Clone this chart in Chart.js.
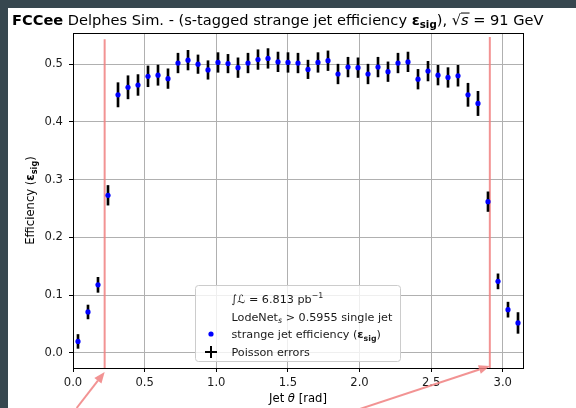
<!DOCTYPE html>
<html>
<head>
<meta charset="utf-8">
<script src="https://cdn.jsdelivr.net/npm/chart.js@4.4.0/dist/chart.umd.min.js"></script>
<style>
    html, body { margin: 0; padding: 0; background: #fff; }
</style>
</head>
<body>
<canvas id="effChart" width="576" height="408"></canvas>
<script>
// Jet theta bin centres (45 bins between 0 and pi)
const thetaBins = [0.0349, 0.1047, 0.1745, 0.2443, 0.3142, 0.3840, 0.4538, 0.5236, 0.5934, 0.6632,
    0.7330, 0.8029, 0.8727, 0.9425, 1.0123, 1.0821, 1.1519, 1.2217, 1.2915, 1.3614,
    1.4312, 1.5010, 1.5708, 1.6406, 1.7104, 1.7802, 1.8500, 1.9199, 1.9897, 2.0595,
    2.1293, 2.1991, 2.2689, 2.3387, 2.4086, 2.4784, 2.5482, 2.6180, 2.6878, 2.7576,
    2.8274, 2.8972, 2.9671, 3.0369, 3.1067];

// strange jet efficiency per bin
const efficiency = [0.020, 0.071, 0.118, 0.273, 0.447, 0.460, 0.464, 0.479, 0.481, 0.475,
    0.502, 0.507, 0.500, 0.490, 0.503, 0.501, 0.494, 0.502, 0.508, 0.510,
    0.504, 0.503, 0.502, 0.491, 0.503, 0.506, 0.483, 0.495, 0.494, 0.483,
    0.495, 0.487, 0.502, 0.504, 0.474, 0.488, 0.481, 0.477, 0.480, 0.447,
    0.432, 0.262, 0.124, 0.075, 0.052];

// Poisson errors (half length of the bars)
const poissonErr = [0.012, 0.012, 0.013, 0.017, 0.021, 0.020, 0.018, 0.018, 0.0175, 0.017,
    0.017, 0.017, 0.016, 0.016, 0.017, 0.016, 0.017, 0.017, 0.017, 0.017,
    0.017, 0.017, 0.017, 0.016, 0.017, 0.017, 0.017, 0.017, 0.017, 0.017,
    0.017, 0.017, 0.017, 0.017, 0.017, 0.017, 0.017, 0.017, 0.018, 0.020,
    0.021, 0.017, 0.013, 0.013, 0.018];

// acceptance cut lines (theta value, top of the line)
const cutTheta = [0.221, 2.91];
const cutTop = [0.543, 0.547];

const xTicks = [0.0, 0.5, 1.0, 1.5, 2.0, 2.5, 3.0];
const yTicks = [0.0, 0.1, 0.2, 0.3, 0.4, 0.5];
const yMin = -0.026;
const yMax = 0.554;

const FONT = '"DejaVu Sans", "Liberation Sans", sans-serif';

const points = thetaBins.map((t, i) => ({ x: t, y: efficiency[i] }));
const errorBars = thetaBins.map((t, i) => ({ x: t, y: [efficiency[i] - poissonErr[i], efficiency[i] + poissonErr[i]] }));

// draws text pieces one after the other (bold / italic / sub / sup)
function richText(ctx, parts, x, y, size, draw) {
    let cx = x;
    parts.forEach(p => {
        const s = (p.sub || p.sup) ? size * 0.7 : size;
        ctx.font = (p.i ? 'italic ' : '') + (p.b ? 'bold ' : '') + s + 'px ' + FONT;
        const dy = p.sub ? size * 0.22 : (p.sup ? -size * 0.4 : 0);
        const w = ctx.measureText(p.t).width;
        if (draw) {
            ctx.fillText(p.t, cx, y + dy);
            if (p.over) {
                ctx.fillRect(cx, y - size * 0.82, w + 1, 1);
            }
        }
        cx += w;
    });
    return cx - x;
}

function arrow(ctx, x0, y0, x1, y1) {
    const ang = Math.atan2(y1 - y0, x1 - x0);
    const hl = 11, hw = 4.5;
    const bx = x1 - hl * Math.cos(ang), by = y1 - hl * Math.sin(ang);
    ctx.beginPath();
    ctx.moveTo(x0, y0);
    ctx.lineTo(bx, by);
    ctx.stroke();
    ctx.beginPath();
    ctx.moveTo(x1, y1);
    ctx.lineTo(bx + hw * Math.sin(ang), by - hw * Math.cos(ang));
    ctx.lineTo(bx - hw * Math.sin(ang), by + hw * Math.cos(ang));
    ctx.closePath();
    ctx.fill();
}

const figurePlugin = {
    id: 'figureText',
    beforeDraw(chart) {
        const ctx = chart.ctx;
        ctx.save();
        ctx.fillStyle = '#ffffff';
        ctx.fillRect(0, 0, chart.width, chart.height);
        ctx.fillStyle = '#37474f';
        ctx.fillRect(0, 0, chart.width, 8);
        ctx.fillRect(0, 0, 8, chart.height);
        ctx.restore();
    },
    afterDraw(chart) {
        const ctx = chart.ctx;
        const a = chart.chartArea;
        const xs = chart.scales.x;
        ctx.save();

        // frame
        ctx.strokeStyle = '#000';
        ctx.lineWidth = 1;
        ctx.strokeRect(Math.round(a.left) + 0.5, Math.round(a.top) + 0.5, Math.round(a.right - a.left), Math.round(a.bottom - a.top));

        ctx.fillStyle = '#000';
        ctx.textBaseline = 'alphabetic';
        ctx.textAlign = 'left';

        // title
        const title = [
            { t: 'FCCee', b: true },
            { t: ' Delphes Sim. - (s-tagged strange jet efficiency ' },
            { t: '\u03b5', b: true },
            { t: 'sig', b: true, sub: true },
            { t: '), \u221a' },
            { t: 's', i: true, over: true },
            { t: ' = 91 GeV' }
        ];
        richText(ctx, title, 12, 24.5, 14.6, true);

        // axis labels
        const xl = [{ t: 'Jet ' }, { t: '\u03b8', i: true }, { t: ' [rad]' }];
        const xw = richText(ctx, xl, 0, 0, 11.6, false);
        richText(ctx, xl, (a.left + a.right) / 2 - xw / 2, 402, 11.6, true);

        const yl = [{ t: 'Efficiency (' }, { t: '\u03b5', b: true }, { t: 'sig', b: true, sub: true }, { t: ')' }];
        const yw = richText(ctx, yl, 0, 0, 11.6, false);
        ctx.save();
        ctx.translate(34, (a.top + a.bottom) / 2);
        ctx.rotate(-Math.PI / 2);
        richText(ctx, yl, -yw / 2, 0, 11.6, true);
        ctx.restore();

        // legend
        const lx = 195.5, ly = 285.5, lw = 205, lh = 76;
        ctx.beginPath();
        ctx.roundRect(lx, ly, lw, lh, 3);
        ctx.fillStyle = 'rgba(255,255,255,0.8)';
        ctx.fill();
        ctx.strokeStyle = '#cccccc';
        ctx.stroke();

        ctx.fillStyle = '#1a1a1a';
        const tx = 231.5;
        richText(ctx, [{ t: '\u222b\u2112 = 6.813 pb' }, { t: '\u22121', sup: true }], tx, 302.5, 11.2, true);
        richText(ctx, [{ t: 'LodeNet' }, { t: 's', i: true, sub: true }, { t: ' > 0.5955 single jet' }], tx, 320.5, 11.2, true);
        richText(ctx, [{ t: 'strange jet efficiency (' }, { t: '\u03b5', b: true }, { t: 'sig', b: true, sub: true }, { t: ')' }], tx, 338.3, 11.2, true);
        richText(ctx, [{ t: 'Poisson errors' }], tx, 356, 11.2, true);

        ctx.fillStyle = '#0000ff';
        ctx.beginPath();
        ctx.arc(211, 334, 2.6, 0, Math.PI * 2);
        ctx.fill();
        ctx.strokeStyle = '#000';
        ctx.lineWidth = 2;
        ctx.beginPath();
        ctx.moveTo(205, 352); ctx.lineTo(217, 352);
        ctx.moveTo(211, 346); ctx.lineTo(211, 358);
        ctx.stroke();

        // arrows pointing at the cut lines
        ctx.strokeStyle = 'rgba(240,128,128,0.85)';
        ctx.fillStyle = 'rgba(240,128,128,0.85)';
        ctx.lineWidth = 2;
        const lt = xs.getPixelForValue(cutTheta[0]);
        arrow(ctx, lt - 28, a.bottom + 40, lt, a.bottom + 4);
        const rt = xs.getPixelForValue(cutTheta[1]);
        arrow(ctx, rt - 130, a.bottom + 41, rt, a.bottom - 2);

        ctx.restore();
    }
};

const ctx = document.getElementById('effChart').getContext('2d');

const config = {
    type: 'scatter',
    data: {
        datasets: [
            {
                type: 'scatter',
                data: points,
                pointRadius: 2.6,
                pointHoverRadius: 2.6,
                backgroundColor: '#0000ff',
                borderWidth: 0,
                order: 0
            },
            {
                type: 'bar',
                data: errorBars,
                backgroundColor: '#000000',
                borderWidth: 0,
                barThickness: 2,
                grouped: false,
                order: 1
            },
            {
                type: 'line',
                data: [{ x: cutTheta[0], y: yMin }, { x: cutTheta[0], y: cutTop[0] }],
                borderColor: 'rgba(240,128,128,0.85)',
                borderWidth: 2,
                pointRadius: 0,
                order: 3
            },
            {
                type: 'line',
                data: [{ x: cutTheta[1], y: yMin }, { x: cutTheta[1], y: cutTop[1] }],
                borderColor: 'rgba(240,128,128,0.85)',
                borderWidth: 2,
                pointRadius: 0,
                order: 3
            }
        ]
    },
    options: {
        responsive: false,
        animation: false,
        layout: {
            padding: { left: 0, right: 53, top: 33, bottom: 0 }
        },
        scales: {
            x: {
                type: 'linear',
                min: 0,
                max: Math.PI,
                offset: false,
                afterFit: function(scale) { scale.height = 40; },
                afterBuildTicks: function(scale) { scale.ticks = xTicks.map(v => ({ value: v })); },
                grid: {
                    color: '#b0b0b0',
                    lineWidth: 1,
                    offset: false,
                    tickColor: '#000',
                    tickLength: 4,
                    tickWidth: 1
                },
                border: { display: false },
                ticks: {
                    color: '#1a1a1a',
                    padding: 4,
                    maxRotation: 0,
                    font: { family: 'DejaVu Sans', size: 11.6 },
                    callback: function(value) { return value.toFixed(1); }
                }
            },
            y: {
                type: 'linear',
                min: yMin,
                max: yMax,
                afterFit: function(scale) { scale.width = 73; },
                afterBuildTicks: function(scale) { scale.ticks = yTicks.map(v => ({ value: v })); },
                grid: {
                    color: '#b0b0b0',
                    lineWidth: 1,
                    tickColor: '#000',
                    tickLength: 4,
                    tickWidth: 1
                },
                border: { display: false },
                ticks: {
                    color: '#1a1a1a',
                    padding: 6,
                    font: { family: 'DejaVu Sans', size: 11.6 },
                    callback: function(value) { return value.toFixed(1); }
                }
            }
        },
        plugins: {
            legend: { display: false },
            tooltip: { enabled: false }
        }
    },
    plugins: [figurePlugin]
};

const effChart = new Chart(ctx, config);
</script>
</body>
</html>
